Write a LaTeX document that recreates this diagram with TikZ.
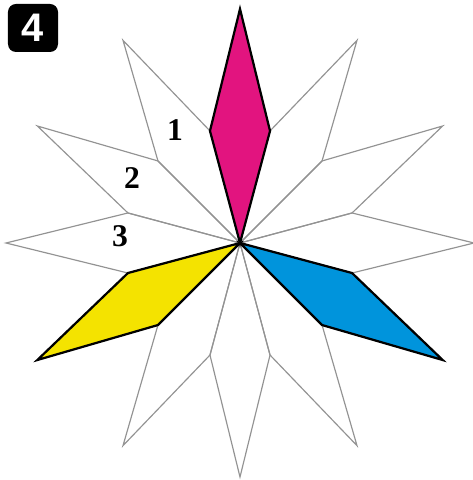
\documentclass[tikz,border=0pt]{standalone}
\usepackage{fontspec}
\setmainfont{Liberation Serif}
\newfontfamily\badgefont{Liberation Sans}
\usetikzlibrary{positioning}
\definecolor{starmagenta}{HTML}{E2147F}
\definecolor{staryellow}{HTML}{F4E300}
\definecolor{starblue}{HTML}{0094DC}

\begin{document}
\begin{tikzpicture}[
  x=0.03cm, y=0.03cm,
  petal/.style={draw=gray!85, line width=1pt, line join=miter},
  colpetal/.style={draw=black, line width=1.9pt, line join=miter},
  num/.style={font=\fontsize{27}{27}\selectfont\bfseries, inner sep=0pt},
  badge/.style={fill=black, rounded corners=0.24cm, minimum width=1.5cm,
                minimum height=1.44cm, text=white, inner sep=0pt,
                font=\badgefont\fontsize{34}{34}\selectfont\bfseries}
]
  \useasboundingbox (0,0) rectangle (472,480);

  \begin{scope}[shift={(240,237)}]
    % twelve petals round the middle
    \foreach \a in {0,30,...,330}
      \draw[petal] (0,0) -- (\a-15:116) -- (\a:234) -- (\a+15:116) -- cycle;
    % the three coloured ones
    \foreach \a/\col in {90/starmagenta, 210/staryellow, 330/starblue}
      \draw[colpetal, fill=\col] (0,0) -- (\a-15:116) -- (\a:234)
        -- (\a+15:116) -- cycle;
  \end{scope}

  \node[num] (one) at (175,350) {1};
  \node[num] (two) at (132,302) {2};
  \node[num] (three) at (120,244) {3};

  \node[badge] (four) at (33,452) {4};
\end{tikzpicture}
\end{document}
